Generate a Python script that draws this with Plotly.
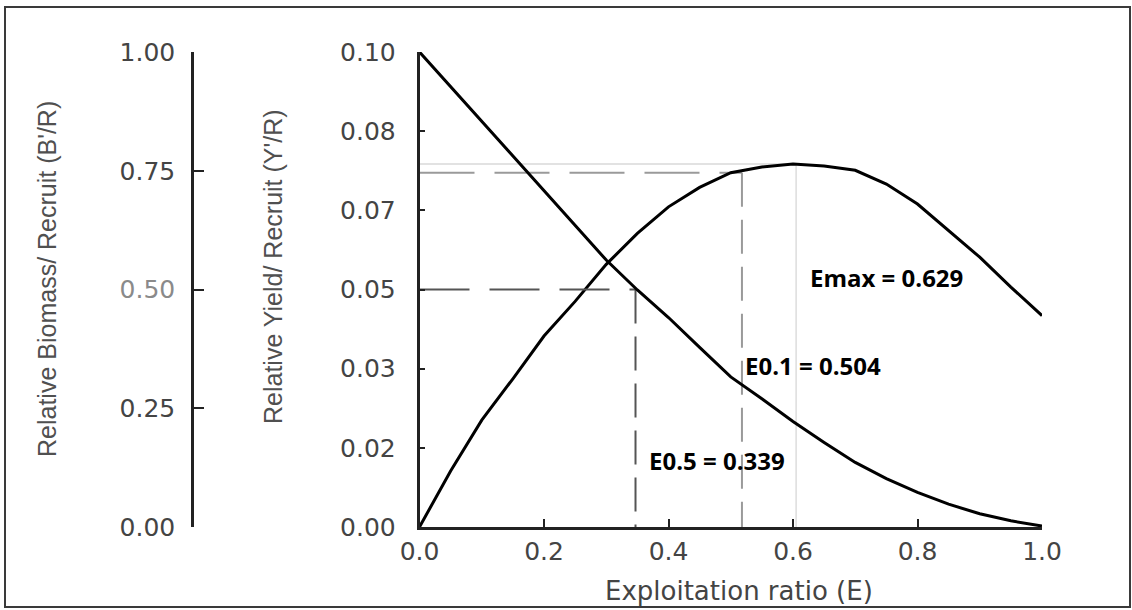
import plotly.graph_objects as go

# ---- data ----
E = [0.00, 0.05, 0.10, 0.15, 0.20, 0.25, 0.30, 0.35, 0.40, 0.45, 0.50,
     0.55, 0.60, 0.65, 0.70, 0.75, 0.80, 0.85, 0.90, 0.95, 1.00]
yield_per_recruit = [0.0, 0.0118, 0.0225, 0.0312, 0.0402, 0.0475, 0.0553, 0.0618,
                     0.0674, 0.0715, 0.0746, 0.0758, 0.0764, 0.0760, 0.0751, 0.0722,
                     0.0680, 0.0625, 0.0568, 0.0505, 0.0445]
biomass_per_recruit = [1.0, 0.927, 0.854, 0.781, 0.707, 0.634, 0.562, 0.499,
                       0.441, 0.378, 0.316, 0.270, 0.222, 0.178, 0.136, 0.102,
                       0.073, 0.048, 0.028, 0.013, 0.002]

# reference points
E05, B05 = 0.347, 0.5          # E0.5 on biomass axis
E01, Y01 = 0.518, 0.0746       # E0.1 on yield axis
EMAX, YMAX = 0.605, 0.0764     # Emax on yield axis

x_ticks = [0.0, 0.2, 0.4, 0.6, 0.8, 1.0]
x_ticktext = ["0.0", "0.2", "0.4", "0.6", "0.8", "1.0"]
y_ticks = [0, 1/60, 2/60, 3/60, 4/60, 5/60, 6/60]
y_ticktext = ["0.00", "0.02", "0.03", "0.05", "0.07", "0.08", "0.10"]
b_ticks = [0, 0.25, 0.5, 0.75, 1.0]
b_ticktext = ["0.00", "0.25", "<span style='color:#8a8a8a'>0.50</span>", "0.75", "1.00"]

labels = ["E0.5 = 0.339", "E0.1 = 0.504", "Emax = 0.629"]

W, H = 1132, 610
axis_col = "#222222"
tick_font = dict(family="DejaVu Sans", size=25, color="#444444")

fig = go.Figure()

# dashed reference lines
fig.add_trace(go.Scatter(x=[0, E05], y=[B05, B05], yaxis="y2", mode="lines",
                         line=dict(color="#555555", width=2, dash="50px,20px"),
                         hoverinfo="skip", showlegend=False, cliponaxis=False))
fig.add_trace(go.Scatter(x=[E05, E05], y=[B05, 0], yaxis="y2", mode="lines",
                         line=dict(color="#555555", width=2, dash="34px,13px"),
                         hoverinfo="skip", showlegend=False, cliponaxis=False))
fig.add_trace(go.Scatter(x=[0, E01], y=[Y01, Y01], mode="lines",
                         line=dict(color="#9a9a9a", width=2, dash="55px,20px"),
                         hoverinfo="skip", showlegend=False, cliponaxis=False))
fig.add_trace(go.Scatter(x=[E01, E01], y=[Y01, 0], mode="lines",
                         line=dict(color="#9a9a9a", width=2, dash="34px,13px"),
                         hoverinfo="skip", showlegend=False, cliponaxis=False))
fig.add_trace(go.Scatter(x=[0, EMAX], y=[YMAX, YMAX], mode="lines",
                         line=dict(color="#d8d8d8", width=1.5),
                         hoverinfo="skip", showlegend=False, cliponaxis=False))
fig.add_trace(go.Scatter(x=[EMAX, EMAX], y=[YMAX, 0], mode="lines",
                         line=dict(color="#dddddd", width=1.5),
                         hoverinfo="skip", showlegend=False, cliponaxis=False))

# curves
fig.add_trace(go.Scatter(x=E, y=yield_per_recruit, mode="lines",
                         line=dict(color="black", width=3),
                         name="Y'/R", showlegend=False, cliponaxis=False))
fig.add_trace(go.Scatter(x=E, y=biomass_per_recruit, yaxis="y2", mode="lines",
                         line=dict(color="black", width=3),
                         name="B'/R", showlegend=False, cliponaxis=False))

x_dom = [419.5 / W, 1042 / W]
y_dom = [(H - 527) / H, (H - 52) / H]

fig.update_layout(
    width=W, height=H,
    margin=dict(l=0, r=0, t=0, b=0),
    paper_bgcolor="white", plot_bgcolor="white",
    showlegend=False,
    xaxis=dict(domain=x_dom, range=[0, 1], showgrid=False, zeroline=False,
               showline=True, linecolor=axis_col, linewidth=2.5,
               ticks="inside", ticklen=8, tickwidth=2, tickcolor=axis_col,
               tickvals=x_ticks, ticktext=x_ticktext, tickfont=tick_font,
               automargin=False, anchor="y"),
    yaxis=dict(domain=y_dom, range=[0, 0.1], showgrid=False, zeroline=False,
               showline=True, linecolor=axis_col, linewidth=2.5,
               ticks="inside", ticklen=6, tickwidth=2, tickcolor=axis_col,
               tickvals=y_ticks, ticktext=y_ticktext, tickfont=tick_font,
               ticklabelstandoff=16, automargin=False, anchor="x"),
    yaxis2=dict(overlaying="y", anchor="free", position=192 / W, side="left",
                range=[0, 1], showgrid=False, zeroline=False,
                showline=True, linecolor=axis_col, linewidth=2.5,
                ticks="inside", ticklen=10, tickwidth=2, tickcolor=axis_col,
                tickvals=b_ticks, ticktext=b_ticktext, tickfont=tick_font,
                ticklabelstandoff=11, automargin=False),
)

ann_font = dict(family="Open Sans", size=24, color="black")
fig.add_annotation(x=0.366, y=0.0141, xref="x", yref="y", text="<b>%s</b>" % labels[0],
                   showarrow=False, xanchor="left", yanchor="middle", font=ann_font)
fig.add_annotation(x=0.520, y=0.0341, xref="x", yref="y", text="<b>%s</b>" % labels[1],
                   showarrow=False, xanchor="left", yanchor="middle", font=ann_font)
fig.add_annotation(x=0.624, y=0.0526, xref="x", yref="y", text="<b>%s</b>" % labels[2],
                   showarrow=False, xanchor="left", yanchor="middle", font=ann_font)

title_font = dict(family="Liberation Sans", size=25, color="#505050")
fig.add_annotation(x=47 / W, y=(H - 279) / H, xref="paper", yref="paper",
                   text="Relative Biomass/ Recruit (B'/R)", textangle=-90,
                   showarrow=False, xanchor="center", yanchor="middle", font=title_font)
fig.add_annotation(x=273 / W, y=(H - 267) / H, xref="paper", yref="paper",
                   text="Relative Yield/ Recruit (Y'/R)", textangle=-90,
                   showarrow=False, xanchor="center", yanchor="middle", font=title_font)
fig.add_annotation(x=739 / W, y=(H - 591) / H, xref="paper", yref="paper",
                   text="Exploitation ratio (E)",
                   showarrow=False, xanchor="center", yanchor="middle",
                   font=dict(family="DejaVu Sans", size=26, color="#444444"))

# outer frame
fig.add_shape(type="rect", xref="paper", yref="paper",
              x0=5 / W, x1=1130 / W, y0=(H - 607) / H, y1=(H - 7) / H,
              line=dict(color="#3a3a3a", width=2), fillcolor="rgba(0,0,0,0)")

fig.write_html("out.html",
               config={"displayModeBar": False},
               post_script="document.body.style.margin='0px';"
                           "document.body.style.overflow='hidden';")
